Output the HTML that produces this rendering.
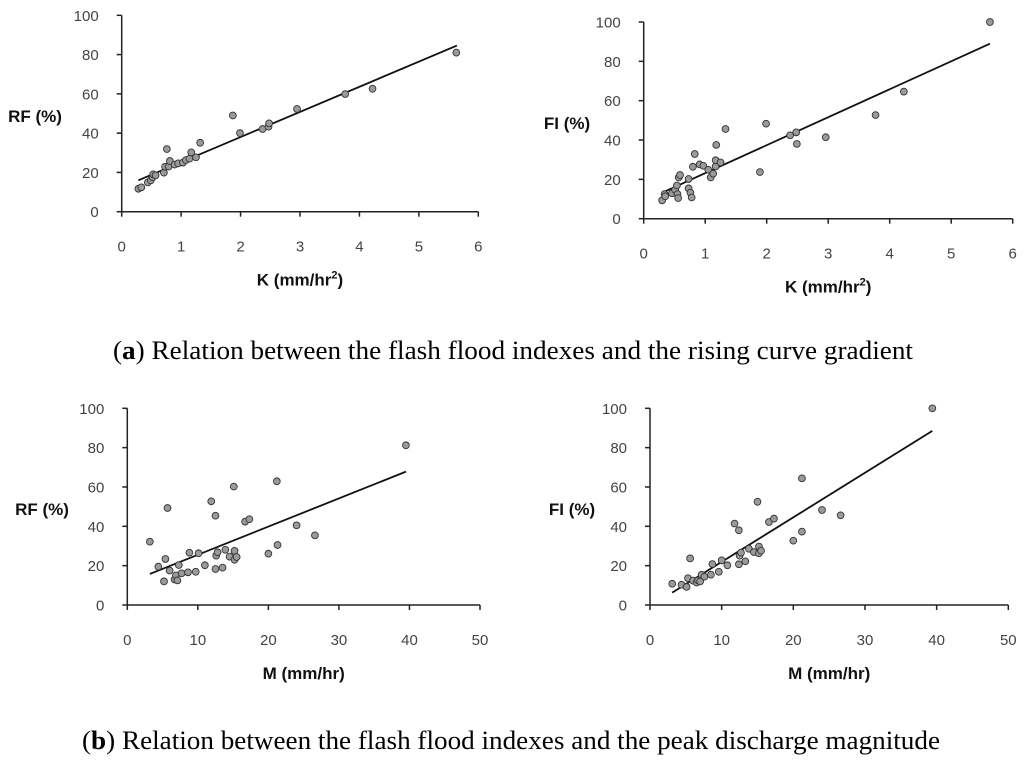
<!DOCTYPE html>
<html><head><meta charset="utf-8"><style>
body{margin:0;background:#fff;width:1024px;height:762px;overflow:hidden}
svg{display:block}
text{font-family:"Liberation Sans",sans-serif}
</style></head><body>
<svg id="s" width="1024" height="762">
<text x="113" y="359" font-size="26" textLength="800" lengthAdjust="spacingAndGlyphs" style="font-family:'Liberation Serif',serif">(<tspan font-weight="bold">a</tspan>) Relation between the flash flood indexes and the rising curve gradient</text>
<text x="82" y="749" font-size="26" textLength="858" lengthAdjust="spacingAndGlyphs" style="font-family:'Liberation Serif',serif">(<tspan font-weight="bold">b</tspan>) Relation between the flash flood indexes and the peak discharge magnitude</text>
</svg>
<script>
// Plot 1: RF vs K
const p1X=[0.28,0.33,0.44,0.49,0.52,0.53,0.57,0.71,0.73,0.76,0.79,0.81,0.89,0.95,1.03,1.08,1.14,1.17,1.25,1.32,1.87,1.99,2.37,2.47,2.48,2.95,3.76,4.22,5.63];
const p1Y=[11.7,12.4,14.9,16,17.5,19,18.5,19.9,22.9,31.9,23,25.8,24,24.6,25,26.3,27,30.2,27.7,35.1,49,40,42.1,43.3,45,52.3,59.9,62.6,81];
const p1Line=[[0.28,16],[5.64,84.6]];
// Plot 2: FI vs K
const p2X=[0.3,0.34,0.35,0.46,0.51,0.54,0.55,0.56,0.57,0.59,0.73,0.73,0.76,0.78,0.8,0.83,0.91,0.97,1.05,1.09,1.13,1.17,1.17,1.18,1.25,1.33,1.89,1.99,2.38,2.48,2.49,2.96,3.77,4.23,5.63];
const p2Y=[9.3,12.5,11.4,12.9,14.7,16.9,12.5,10.5,21,22.2,20.2,15.4,13.2,10.8,26.4,32.9,27.6,26.9,24.9,21,22.9,26.6,29.7,37.5,28.6,45.6,23.7,48.3,42.4,43.9,38,41.4,52.7,64.6,100];
const p2Line=[[0.3,13.2],[5.63,89]];
// Plot 3: RF vs M
const p3X=[3.2,4.4,5.2,5.4,5.7,6,6.7,6.9,7.1,7.3,7.7,8.6,8.8,9.7,10.1,11,11.9,12.5,12.5,12.6,12.8,13.5,13.9,14.5,15.1,15.2,15.2,15.5,16.7,17.3,20,21.2,21.3,24,26.6,39.5];
const p3Y=[32.2,19.5,12,23.4,49.3,17.5,13,15.1,12.5,20.3,16.1,16.6,26.6,16.9,26.3,20.2,52.7,45.4,18.3,25.1,26.8,19,28.1,24.6,60.2,27.5,23,24.4,42.4,43.6,26.1,62.9,30.5,40.5,35.4,81.2];
const p3Line=[[3.2,15.8],[39.5,67.8]];
// Plot 4: FI vs M
const p4X=[3.1,4.4,5.1,5.3,5.6,6,6.5,6.7,7,7.2,7.6,8.5,8.7,9.6,10,10.8,11.8,12.4,12.4,12.5,12.7,13.3,13.8,14.5,15,15.2,15.2,15.5,16.6,17.3,20,21.2,21.2,24,26.6,39.4];
const p4Y=[10.8,10.3,9.2,13.6,23.7,12.4,11.4,12.5,12,15.4,14.4,15.4,20.8,16.9,22.7,20.2,41.4,20.7,38,25.1,26.6,22.2,28.6,26.9,52.5,29.7,26.3,27.6,42.2,43.9,32.7,64.4,37.3,48.3,45.6,100];
const p4Line=[[3.1,6.3],[39.4,88.5]];
const kTicks=["0","1","2","3","4","5","6"];
const mTicks=["0","10","20","30","40","50"];
const yTicks=["0","20","40","60","80","100"];

const NS="http://www.w3.org/2000/svg";
const svg=document.getElementById('s');
function mk(t,a,p){const e=document.createElementNS(NS,t);for(const k in a)e.setAttribute(k,a[k]);(p||svg).appendChild(e);return e;}
function plot(cfg){
  const g=mk('g',{});
  
  
  const sx=v=>cfg.x0+(v/cfg.xmax)*(cfg.x1-cfg.x0);
  const sy=v=>cfg.y0-(v/100)*(cfg.y0-cfg.y1);
  const ax=mk('path',{d:`M${cfg.x0},${cfg.y1}V${cfg.y0}H${cfg.x1}`,fill:'none',stroke:'#222','stroke-width':1.5},g);
  
  
  yTicks.forEach(t=>{const y=sy(+t);
    mk('line',{x1:cfg.x0-5,x2:cfg.x0,y1:y,y2:y,stroke:'#222','stroke-width':1.5},g);
    const tx=mk('text',{x:cfg.x0-23,y:y+5.5,'text-anchor':'end','font-size':15,fill:'#444'},g);tx.textContent=t;
    
    
  });
  cfg.ticks.forEach(t=>{const x=sx(+t);
    mk('line',{x1:x,x2:x,y1:cfg.y0,y2:cfg.y0+5,stroke:'#222','stroke-width':1.5},g);
    const tx=mk('text',{x:x,y:cfg.y0+40,'text-anchor':'middle','font-size':15,fill:'#444'},g);tx.textContent=t;
    
    
  });
  const ln=mk('line',{x1:sx(cfg.line[0][0]),y1:sy(cfg.line[0][1]),x2:sx(cfg.line[1][0]),y2:sy(cfg.line[1][1]),stroke:'#111','stroke-width':1.8},g);
  
  
  cfg.xs.forEach((v,i)=>{const c=mk('circle',{cx:sx(v),cy:sy(cfg.ys[i]),r:3.4,fill:'#9a9a9a',stroke:'#333','stroke-width':0.9},g);
    
    
  });
  const yl=mk('text',{x:cfg.ylx,y:(cfg.y0+cfg.y1)/2+8.5,'text-anchor':'middle','font-size':17,'font-weight':'bold',fill:'#111'},g);yl.textContent=cfg.ylab;
  
  
  const xl=mk('text',{x:(cfg.x0+cfg.x1)/2,y:cfg.y0+74,'text-anchor':'middle','font-size':17,'font-weight':'bold',fill:'#111'},g);
  
  
  if(cfg.sup){xl.textContent=cfg.xlab;const ts=mk('tspan',{'font-size':11,dy:-7},xl);ts.textContent='2';const t2=mk('tspan',{dy:7},xl);t2.textContent=')';}
  else xl.textContent=cfg.xlab;
}
plot({name:'plot-rf-k',x0:121.7,x1:478.3,y0:211.7,y1:15.3,xmax:6,ticks:kTicks,xs:p1X,ys:p1Y,line:p1Line,ylab:'RF (%)',ylx:35,xlab:'K (mm/hr',sup:true});
plot({name:'plot-fi-k',x0:643.7,x1:1012.7,y0:218.7,y1:22,xmax:6,ticks:kTicks,xs:p2X,ys:p2Y,line:p2Line,ylab:'FI (%)',ylx:567,xlab:'K (mm/hr',sup:true});
plot({name:'plot-rf-m',x0:127.3,x1:480,y0:605,y1:408.3,xmax:50,ticks:mTicks,xs:p3X,ys:p3Y,line:p3Line,ylab:'RF (%)',ylx:42,xlab:'M (mm/hr)'});
plot({name:'plot-fi-m',x0:650,x1:1008.3,y0:605,y1:408.3,xmax:50,ticks:mTicks,xs:p4X,ys:p4Y,line:p4Line,ylab:'FI (%)',ylx:572,xlab:'M (mm/hr)'});
</script>
</body></html>
